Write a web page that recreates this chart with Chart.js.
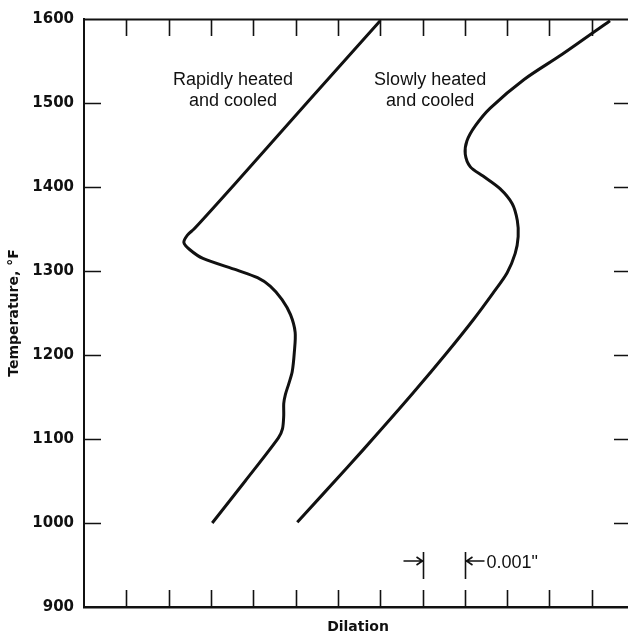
<!DOCTYPE html>
<html>
<head>
<meta charset="utf-8">
<script src="https://cdn.jsdelivr.net/npm/chart.js@4.4.1/dist/chart.umd.min.js"></script>
<style>
  html, body { margin: 0; padding: 0; background: #fff; overflow: hidden; }
  canvas { display: block; }
</style>
</head>
<body>
<canvas id="dil" width="650" height="638"></canvas>
<script>
// dilation in units of 0.001", temperature in deg F
const rapidDilation = [3.03, 3.81, 4.59, 4.69, 4.72, 4.72, 4.76, 4.84, 4.92, 4.97, 4.99, 4.88, 4.68, 4.40, 4.10, 3.62, 2.81, 2.51, 2.36, 2.45, 2.60, 3.57, 5.30, 7.00];
const rapidTemp     = [1000, 1050, 1101, 1112, 1128, 1142, 1153, 1166, 1180, 1203, 1227, 1248, 1266, 1282, 1292, 1301, 1315, 1325, 1334, 1343, 1350, 1404, 1502, 1598];

const slowDilation = [5.04, 6.22, 7.00, 7.78, 8.58, 9.20, 9.67, 10.00, 10.19, 10.26, 10.24, 10.12, 9.83, 9.43, 9.13, 9.01, 9.05, 9.25, 9.60, 10.40, 11.30, 12.43];
const slowTemp     = [1001, 1066, 1110, 1155, 1203, 1242, 1274, 1298, 1321, 1341, 1360, 1380, 1398, 1413, 1424, 1439, 1455, 1473, 1494, 1528, 1558, 1598];

const tempTicks = [900, 1000, 1100, 1200, 1300, 1400, 1500, 1600];
const dilationTicks = [1, 2, 3, 4, 5, 6, 7, 8, 9, 10, 11, 12];

const toPoints = (xs, ys) => xs.map((x, i) => ({ x, y: ys[i] }));

const INK = '#111';

// inward tick marks, top frame line, curve labels and the 0.001" scale bar
const frameTicks = {
  id: 'frameTicks',
  afterDraw(chart) {
    const { ctx, chartArea: a, scales: { x, y } } = chart;
    ctx.save();
    ctx.strokeStyle = INK;
    ctx.lineCap = 'butt';

    // top line
    ctx.lineWidth = 2;
    ctx.beginPath();
    ctx.moveTo(a.left - 1, a.top + 0.5);
    ctx.lineTo(a.right, a.top + 0.5);
    ctx.stroke();

    ctx.lineWidth = 1.6;
    ctx.beginPath();
    dilationTicks.forEach(v => {
      const px = Math.round(x.getPixelForValue(v)) + 0.5;
      ctx.moveTo(px, a.top); ctx.lineTo(px, a.top + 17);
      ctx.moveTo(px, a.bottom); ctx.lineTo(px, a.bottom - 17);
    });
    tempTicks.filter(t => t > 900 && t < 1600).forEach(t => {
      const py = Math.round(y.getPixelForValue(t)) + 0.5;
      ctx.moveTo(a.left, py); ctx.lineTo(a.left + 17, py);
      ctx.moveTo(a.right, py); ctx.lineTo(a.right - 18, py);
    });
    ctx.stroke();

    // curve labels
    ctx.fillStyle = INK;
    ctx.font = '18px "Liberation Sans", Arial, sans-serif';
    ctx.textAlign = 'center';
    ctx.textBaseline = 'alphabetic';
    const l1 = a.top + 66, l2 = a.top + 87;
    const rx = x.getPixelForValue(3.52), sx = x.getPixelForValue(8.18);
    ctx.fillText('Rapidly heated', rx, l1);
    ctx.fillText('and cooled', rx, l2);
    ctx.fillText('Slowly heated', sx, l1);
    ctx.fillText('and cooled', sx, l2);

    // scale bar: one tick spacing = 0.001"
    const b1 = Math.round(x.getPixelForValue(8)) + 0.5;
    const b2 = Math.round(x.getPixelForValue(9)) + 0.5;
    const top = a.bottom - 55, bot = a.bottom - 28, ay = a.bottom - 46;
    ctx.lineWidth = 1.6;
    ctx.beginPath();
    ctx.moveTo(b1, top); ctx.lineTo(b1, bot);
    ctx.moveTo(b2, top); ctx.lineTo(b2, bot);
    ctx.moveTo(b1 - 20, ay); ctx.lineTo(b1 - 1, ay);
    ctx.moveTo(b1 - 7, ay - 4); ctx.lineTo(b1 - 1, ay); ctx.lineTo(b1 - 7, ay + 4);
    ctx.moveTo(b2 + 1, ay); ctx.lineTo(b2 + 19, ay);
    ctx.moveTo(b2 + 7, ay - 4); ctx.lineTo(b2 + 1, ay); ctx.lineTo(b2 + 7, ay + 4);
    ctx.stroke();
    ctx.textAlign = 'left';
    ctx.fillText('0.001"', b2 + 21, ay + 7);
    ctx.restore();
  }
};

const curveStyle = {
  showLine: true,
  borderColor: INK,
  borderWidth: 3,
  pointRadius: 0,
  tension: 0.3,
  fill: false,
  borderCapStyle: 'butt',
  borderJoinStyle: 'round'
};

new Chart(document.getElementById('dil'), {
  type: 'scatter',
  data: {
    datasets: [
      { label: 'Rapidly heated and cooled', data: toPoints(rapidDilation, rapidTemp), ...curveStyle },
      { label: 'Slowly heated and cooled', data: toPoints(slowDilation, slowTemp), ...curveStyle }
    ]
  },
  options: {
    responsive: false,
    animation: false,
    layout: { padding: { top: 14, right: 18, bottom: 0, left: 0 } },
    plugins: { legend: { display: false }, tooltip: { enabled: false } },
    scales: {
      x: {
        type: 'linear',
        min: 0,
        max: 12.95,
        grid: { display: false, drawTicks: false },
        border: { display: true, color: INK, width: 2.5 },
        ticks: { display: false, stepSize: 1 },
        title: {
          display: true,
          text: 'Dilation',
          color: INK,
          font: { family: '"DejaVu Sans", sans-serif', size: 14, weight: 'bold' },
          padding: { top: 0, bottom: 2 }
        },
        afterFit: s => { s.height = 31; }
      },
      y: {
        type: 'linear',
        min: 900,
        max: 1600,
        grid: { display: false, drawTicks: false },
        border: { display: true, color: INK, width: 2 },
        afterBuildTicks: s => { s.ticks = tempTicks.map(v => ({ value: v })); },
        ticks: {
          color: INK,
          padding: 10,
          callback: v => String(v),
          font: { family: '"DejaVu Sans", sans-serif', size: 15, weight: 'bold' }
        },
        title: {
          display: true,
          text: 'Temperature, °F',
          color: INK,
          font: { family: '"DejaVu Sans", sans-serif', size: 14, weight: 'bold' },
          padding: { top: 6, bottom: 0 }
        },
        afterFit: s => { s.width = 84; }
      }
    }
  },
  plugins: [frameTicks]
});
</script>
</body>
</html>
